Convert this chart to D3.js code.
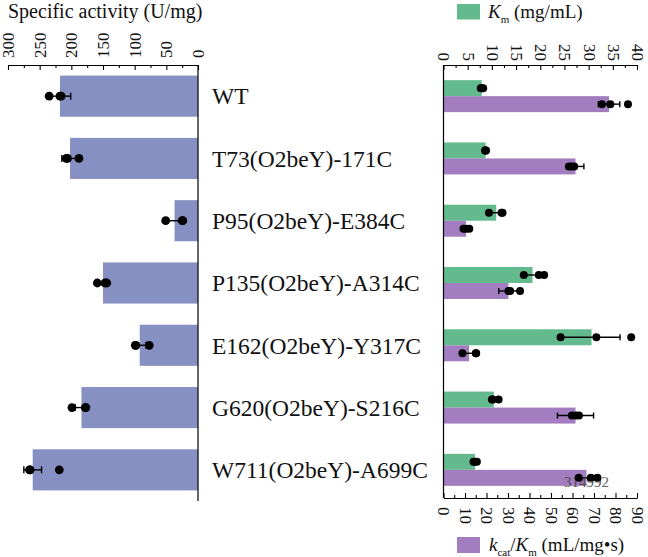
<!DOCTYPE html>
<html><head><meta charset="utf-8">
<script src="https://cdn.jsdelivr.net/npm/d3@7"></script>
<style>
body{margin:0;background:#fff}
svg{display:block}
svg text{font-family:'Liberation Serif','DejaVu Serif',serif !important;fill:#111}
</style>
</head><body>
<svg id="chart" width="648" height="557"></svg>
<script>
// ---------- data ----------
const categories = ["WT","T73(O2beY)-171C","P95(O2beY)-E384C","P135(O2beY)-A314C","E162(O2beY)-Y317C","G620(O2beY)-S216C","W711(O2beY)-A699C"];

const activityMean = [218, 202, 37, 150, 92, 184, 261];
const activitySD   = [17, 13, 13, 7, 10, 10, 14];
const activityPts  = [[235, 216, 218],[208, 188, 206],[51, 24, 25],[159, 144, 147],[99, 77, 98],[199, 177, 178],[265, 266, 219]];

const kmMean = [7.9, 8.7, 10.9, 18.4, 30.6, 10.4, 6.5];
const kmSD   = [0.4, 0.3, 1.4, 2.1, 5.9, 0.7, 0.4];
const kmPts  = [[7.7, 8.2, 7.9],[8.6, 8.8, 8.7],[9.4, 12.2, 12.0],[16.6, 19.7, 20.8],[24.2, 31.6, 38.8],[10.0, 11.4, 10.2],[6.2, 6.9, 6.5]];

const keMean = [77, 61.4, 10.5, 30.2, 11.9, 61.4, 66.5];
const keSD   = [5, 3.9, 1.5, 4.5, 3.2, 8.4, 4];
const kePts  = [[73.7, 77.6, 85.8],[58.3, 60.8, 59.5],[9.3, 12.0, 10.5],[30.2, 31.0, 35.6],[8.8, 15.2, 15.0],[59.7, 63.0, 61.5],[62.9, 68.5, 71.6]];

const activityTicks = [0, 50, 100, 150, 200, 250, 300];
const kmTicks = [0, 5, 10, 15, 20, 25, 30, 35, 40];
const keTicks = [0, 10, 20, 30, 40, 50, 60, 70, 80, 90];

// ---------- layout ----------
const svg = d3.select("#chart");
const FONT = "'Liberation Serif','DejaVu Serif',serif";
const colBlue = "#8790c3", colGreen = "#63ba8d", colPurple = "#a27dc0";
const topY = 65, botY = 501, rightBotY = 498;

const y = d3.scaleBand().domain(categories).range([topY, botY]).paddingInner(0.34).paddingOuter(0.17);
const xL = d3.scaleLinear().domain([0, 300]).range([198, 8]);
const xKm = d3.scaleLinear().domain([0, 40]).range([443.5, 637]);
const xKe = d3.scaleLinear().domain([0, 90]).range([443.5, 637]);
const inner = d3.scaleBand().domain(["km","ke"]).range([-16, 16]);

const ctr = c => y(c) + y.bandwidth()/2;

// ---------- left panel ----------
svg.append("g").selectAll("rect").data(categories).join("rect")
  .attr("x", (c,i) => xL(activityMean[i]))
  .attr("y", c => y(c))
  .attr("width", (c,i) => xL(0) - xL(activityMean[i]))
  .attr("height", y.bandwidth())
  .attr("fill", colBlue);

function errBar(g, scale, mean, sd, yy, cap) {
  g.append("line").attr("x1", scale(mean - sd)).attr("x2", scale(mean + sd))
    .attr("y1", yy).attr("y2", yy).attr("stroke", "#000").attr("stroke-width", 1.4);
  [mean - sd, mean + sd].forEach(v => {
    g.append("line").attr("x1", scale(v)).attr("x2", scale(v))
      .attr("y1", yy - cap).attr("y2", yy + cap).attr("stroke", "#000").attr("stroke-width", 1.4);
  });
}

const gErr = svg.append("g");
categories.forEach((c, i) => errBar(gErr, xL, activityMean[i], activitySD[i], ctr(c), 3.5));
const gDots = svg.append("g");
categories.forEach((c, i) => {
  activityPts[i].forEach(v => gDots.append("circle").attr("cx", xL(v)).attr("cy", ctr(c)).attr("r", 4.4).attr("fill", "#000"));
});

// left axis
const axL = svg.append("g").attr("transform", `translate(0,${topY})`)
  .call(d3.axisTop(xL).tickValues(activityTicks).tickSizeInner(-5).tickSizeOuter(0));
axL.attr("font-family", FONT);
axL.selectAll("text").attr("transform", "rotate(-90)").attr("x", 7).attr("y", 0)
  .attr("dy", "0.33em").attr("text-anchor", "start").style("font-size", "17px");
svg.append("g").attr("transform", `translate(0,${topY})`)
  .call(d3.axisTop(xL).tickValues(d3.range(25, 300, 50)).tickSizeInner(-3).tickSizeOuter(0).tickFormat(""))
  .select(".domain").remove();
svg.append("line").attr("x1", xL(0)).attr("x2", xL(0)).attr("y1", topY).attr("y2", botY).attr("stroke", "#000").attr("stroke-width", 1.2);

svg.append("text").attr("x", 8).attr("y", 18).style("font-size", "20px").text("Specific activity (U/mg)");

// category labels
svg.append("g").selectAll("text").data(categories).join("text")
  .attr("x", 212).attr("y", c => ctr(c)).attr("dy", "0.35em")
  .style("font-size", "23.5px").text(c => c);

// ---------- right panel ----------
const gR = svg.append("g");
gR.selectAll("rect.km").data(categories).join("rect").attr("class", "km")
  .attr("x", xKm(0)).attr("y", c => ctr(c) + inner("km"))
  .attr("width", (c,i) => xKm(kmMean[i]) - xKm(0)).attr("height", inner.bandwidth())
  .attr("fill", colGreen);
gR.selectAll("rect.ke").data(categories).join("rect").attr("class", "ke")
  .attr("x", xKe(0)).attr("y", c => ctr(c) + inner("ke"))
  .attr("width", (c,i) => xKe(keMean[i]) - xKe(0)).attr("height", inner.bandwidth())
  .attr("fill", colPurple);

const gErrR = svg.append("g");
categories.forEach((c, i) => {
  errBar(gErrR, xKm, kmMean[i], kmSD[i], ctr(c) + inner("km") + inner.bandwidth()/2, 3);
  errBar(gErrR, xKe, keMean[i], keSD[i], ctr(c) + inner("ke") + inner.bandwidth()/2, 3);
});

// stray overlay text in the original
svg.append("text").attr("x", 564).attr("y", 487).style("font-size", "15px").style("fill", "#444").style("opacity", 0.85).text("314992");

const gDotsR = svg.append("g");
categories.forEach((c, i) => {
  kmPts[i].forEach(v => gDotsR.append("circle").attr("cx", xKm(v)).attr("cy", ctr(c) + inner("km") + inner.bandwidth()/2).attr("r", 4).attr("fill", "#000"));
  kePts[i].forEach(v => gDotsR.append("circle").attr("cx", xKe(v)).attr("cy", ctr(c) + inner("ke") + inner.bandwidth()/2).attr("r", 4).attr("fill", "#000"));
});

// right top axis (Km)
const axT = svg.append("g").attr("transform", `translate(0,${topY})`)
  .call(d3.axisTop(xKm).tickValues(kmTicks).tickSizeInner(-5).tickSizeOuter(0));
axT.attr("font-family", FONT);
axT.selectAll("text").attr("transform", "rotate(90)").attr("x", -4).attr("y", 0)
  .attr("dy", "0.33em").attr("text-anchor", "end").style("font-size", "17px");
svg.append("g").attr("transform", `translate(0,${topY})`)
  .call(d3.axisTop(xKm).tickValues(d3.range(2.5, 40, 5)).tickSizeInner(-3).tickSizeOuter(0).tickFormat(""))
  .select(".domain").remove();

// right bottom axis (kcat/Km)
const axB = svg.append("g").attr("transform", `translate(0,${rightBotY})`)
  .call(d3.axisBottom(xKe).tickValues(keTicks).tickSizeInner(-5).tickSizeOuter(0));
axB.attr("font-family", FONT);
axB.selectAll("text").attr("transform", "rotate(90)").attr("x", 9).attr("y", 0)
  .attr("dy", "0.33em").attr("text-anchor", "start").style("font-size", "17px");
svg.append("g").attr("transform", `translate(0,${rightBotY})`)
  .call(d3.axisBottom(xKe).tickValues(d3.range(5, 90, 10)).tickSizeInner(-3).tickSizeOuter(0).tickFormat(""))
  .select(".domain").remove();

svg.append("line").attr("x1", xKm(0)).attr("x2", xKm(0)).attr("y1", topY).attr("y2", rightBotY).attr("stroke", "#000").attr("stroke-width", 1.2);

svg.selectAll(".domain").attr("stroke-width", 1.2);
svg.selectAll(".tick line").attr("stroke-width", 1.1);

// legends
svg.append("rect").attr("x", 457).attr("y", 4).attr("width", 23).attr("height", 15.5).attr("fill", colGreen);
const t1 = svg.append("text").attr("x", 488).attr("y", 18).style("font-size", "19px");
t1.append("tspan").style("font-style", "italic").text("K");
t1.append("tspan").attr("dy", 5).style("font-size", "11px").text("m");
t1.append("tspan").attr("dy", -5).text(" (mg/mL)");

svg.append("rect").attr("x", 457).attr("y", 537).attr("width", 23).attr("height", 16).attr("fill", colPurple);
const t2 = svg.append("text").attr("x", 489).attr("y", 551).style("font-size", "19px");
t2.append("tspan").style("font-style", "italic").text("k");
t2.append("tspan").attr("dy", 5).style("font-size", "11px").text("cat");
t2.append("tspan").attr("dy", -5).text("/");
t2.append("tspan").style("font-style", "italic").text("K");
t2.append("tspan").attr("dy", 5).style("font-size", "11px").text("m");
t2.append("tspan").attr("dy", -5).text(" (mL/mg•s)");
</script>
</body></html>
